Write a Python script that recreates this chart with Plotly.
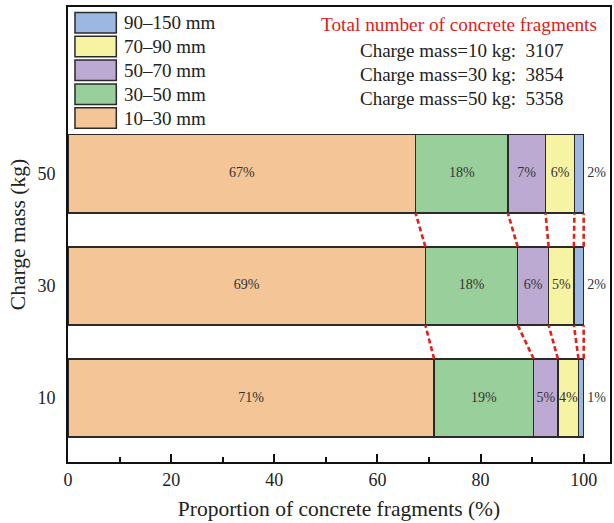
import numpy as np
import plotly.graph_objects as go

# Charge masses (kg) and fragment-size classes
charge_mass = ["10", "30", "50"]
size_classes = ["10–30 mm", "30–50 mm", "50–70 mm", "70–90 mm", "90–150 mm"]

# Proportion of fragments (%) per size class, one entry per charge mass (10, 30, 50 kg)
share_10_30 = [71.0, 69.3, 67.4]
share_30_50 = [19.3, 17.9, 17.9]
share_50_70 = [4.7, 6.0, 7.3]
share_70_90 = [4.0, 4.9, 5.6]
share_90_150 = [1.0, 1.9, 1.8]

# Total number of fragments per charge mass
total_fragments = [3107, 3854, 5358]

colors = ["#F4C597", "#99CF9B", "#BDAAD3", "#F6F3A2", "#9CB8E2"]
edge = "#2a2a2a"
FONT = "Liberation Serif, Times New Roman, serif"

shares = [share_10_30, share_30_50, share_50_70, share_70_90, share_90_150]
ypos = np.arange(len(charge_mass))
BAR_W = 0.7

fig = go.Figure()
for name, vals, col in zip(size_classes, shares, colors):
    fig.add_trace(go.Bar(
        y=ypos, x=vals, orientation="h", name=name, width=BAR_W,
        marker=dict(color=col, line=dict(color=edge, width=1.5)),
        showlegend=False, hoverinfo="x+name",
    ))

# Percentage labels at the centre of each segment (last class sits to the right)
cum = np.cumsum(np.array(shares), axis=0)
starts = cum - np.array(shares)
for k, vals in enumerate(shares):
    mids = starts[k] + np.array(vals) / 2
    last = k == len(shares) - 1
    fig.add_trace(go.Scatter(
        x=cum[k] if last else mids, y=ypos, mode="text",
        text=[(" " if last else "") + f"{v:.0f}%" for v in vals],
        textposition="middle right" if last else "middle center",
        textfont=dict(family=FONT, size=14, color="#333333"),
        showlegend=False, hoverinfo="skip",
    ))

# Dashed connectors between class boundaries of neighbouring bars
lx, ly = [], []
for i in range(len(ypos) - 1):
    for k in range(len(shares)):
        lx += [cum[k][i], cum[k][i + 1], None]
        ly += [ypos[i] + BAR_W / 2, ypos[i + 1] - BAR_W / 2, None]
fig.add_trace(go.Scatter(
    x=lx, y=ly, mode="lines",
    line=dict(color="#E0201B", width=2.6, dash="5px,3px"),
    showlegend=False, hoverinfo="skip",
))

# Plot-area geometry in pixels, used to place the legend and the note
L, R, T, B = 68, 612, 7, 462
def px(xp):
    return (xp - L) / (R - L)
def py(yp):
    return (B - yp) / (B - T)

shapes, annotations = [], []
legend_order = list(range(len(size_classes)))[::-1]
for row, k in enumerate(legend_order):
    top = 12.5 + row * 23.8
    shapes.append(dict(
        type="rect", xref="paper", yref="paper",
        x0=px(75), x1=px(116.5), y0=py(top + 20.5), y1=py(top),
        fillcolor=colors[k], line=dict(color=edge, width=1.5),
    ))
    annotations.append(dict(
        xref="paper", yref="paper", x=px(122), y=py(top + 10.5),
        xanchor="left", yanchor="middle", showarrow=False,
        text=size_classes[k], font=dict(family=FONT, size=19, color="#222222"),
    ))

annotations.append(dict(
    xref="paper", yref="paper", x=px(460), y=py(25),
    xanchor="center", yanchor="middle", showarrow=False,
    text="Total number of concrete fragments",
    font=dict(family=FONT, size=19.3, color="#E0201B"),
))
for i, (m, n) in enumerate(zip(charge_mass, total_fragments)):
    annotations.append(dict(
        xref="paper", yref="paper", x=px(359), y=py(50 + i * 24.5),
        xanchor="left", yanchor="middle", showarrow=False,
        text=f"Charge mass={m} kg:  {n}",
        font=dict(family=FONT, size=19, color="#222222"),
    ))

fig.update_layout(
    barmode="stack",
    width=614, height=523,
    margin=dict(l=L, r=614 - R, t=T, b=523 - B),
    paper_bgcolor="white", plot_bgcolor="white",
    font=dict(family=FONT, color="#222222"),
    shapes=shapes, annotations=annotations,
    xaxis=dict(
        range=[0, (R - L) / 5.176], tickvals=[0, 20, 40, 60, 80, 100],
        ticks="inside", ticklen=8, tickwidth=1.5, tickcolor="#111111",
        minor=dict(tickvals=[10, 30, 50, 70, 90], ticks="inside", ticklen=5,
                   tickwidth=1.5, tickcolor="#111111"),
        showline=True, linecolor="#111111", linewidth=2, mirror=True,
        showgrid=False, zeroline=False,
        tickfont=dict(size=18),
        title=dict(text="Proportion of concrete fragments (%)", font=dict(size=21.5), standoff=12),
    ),
    yaxis=dict(
        range=[-0.571, 3.49], tickvals=list(ypos), ticktext=charge_mass,
        ticks="", ticklabelstandoff=7,
        showline=True, linecolor="#111111", linewidth=2, mirror=True,
        showgrid=False, zeroline=False,
        tickfont=dict(size=18),
        title=dict(text="Charge mass (kg)", font=dict(size=21.5), standoff=6),
    ),
)

fig.write_html("out.html")
